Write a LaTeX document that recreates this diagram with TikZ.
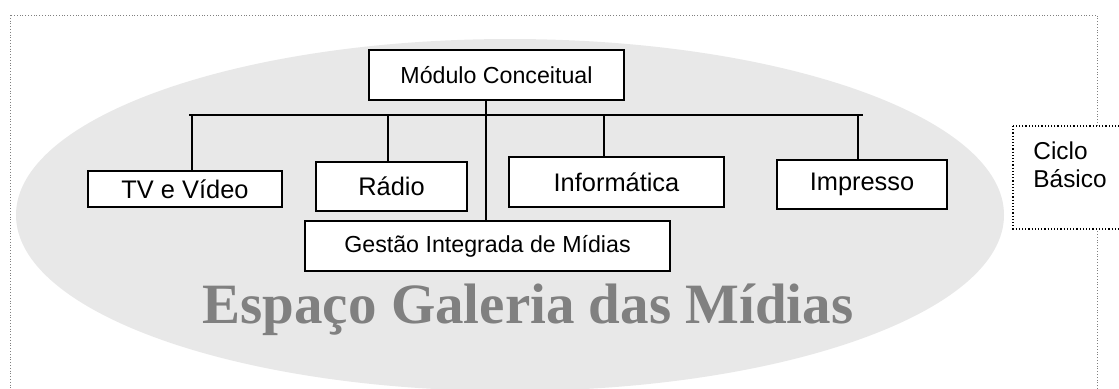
\documentclass[tikz,border=0pt]{standalone}
\usepackage{fontspec}
\setmainfont{Liberation Serif}
\setsansfont{Liberation Sans}
\tikzstyle{box}=[draw, thick, fill=white, rectangle, inner sep=0pt, font=\sffamily\fontsize{12.7}{15}\selectfont]
\tikzstyle{box small}=[box, font=\sffamily\fontsize{11.6}{14}\selectfont]
\tikzstyle{frame}=[densely dotted, gray]
\tikzstyle{wire}=[line width=.75pt]

\begin{document}
\begin{tikzpicture}[x=.5pt,y=-.5pt]
    \clip (0,0) rectangle (1119,388);
    \fill[white] (0,0) rectangle (1119,388);

    % Frame
    \draw[frame] (10,15) rectangle (1097,420);

    % Ellipse
    \fill[black!9] (510,215) ellipse [x radius=247pt, y radius=88pt];
    \draw (528,323) node[anchor=base, text=black!50, font=\bfseries\fontsize{28.5}{30}\selectfont] (galeria) {Espaço Galeria das Mídias};

    % Boxes
    \draw (496.5,75) node[box small, minimum width=127.5pt, minimum height=25pt] (modulo) {Módulo Conceitual};
    \draw (185,189) node[box, minimum width=97pt, minimum height=18pt] (tv) {TV e Vídeo};
    \draw (391.5,186.5) node[box, minimum width=75.5pt, minimum height=24.5pt] (radio) {Rádio};
    \draw (616.5,182) node[box, minimum width=107.5pt, minimum height=25pt] (info) {Informática};
    \draw (862,184.5) node[box, minimum width=85pt, minimum height=24.5pt] (impresso) {Impresso};
    \draw (487.5,246) node[box small, minimum width=182.5pt, minimum height=25pt] (gestao) {Gestão Integrada de Mídias};

    % Bus
    \coordinate (busl) at (189,115);
    \coordinate (busr) at (863,115);
    \coordinate (stem) at (486,115);
    \coordinate (t1) at (192,115);
    \coordinate (t2) at (388,115);
    \coordinate (t3) at (604,115);
    \coordinate (t4) at (858,115);
    \draw[wire] (busl) -- (busr);
    \draw[wire] (stem |- modulo.south) -- (stem |- gestao.north);
    \draw[wire] (t1) -- (t1 |- tv.north);
    \draw[wire] (t2) -- (t2 |- radio.north);
    \draw[wire] (t3) -- (t3 |- info.north);
    \draw[wire] (t4) -- (t4 |- impresso.north);

    % Ciclo basico
    \draw[densely dotted, fill=white, line width=.6pt] (1013,126) rectangle (1160,229);
    \draw (1033,141) node[anchor=north west, inner sep=0pt, align=left, font=\sffamily\fontsize{12.2}{14}\selectfont] (ciclo) {Ciclo\\Básico};

\end{tikzpicture}
\end{document}
